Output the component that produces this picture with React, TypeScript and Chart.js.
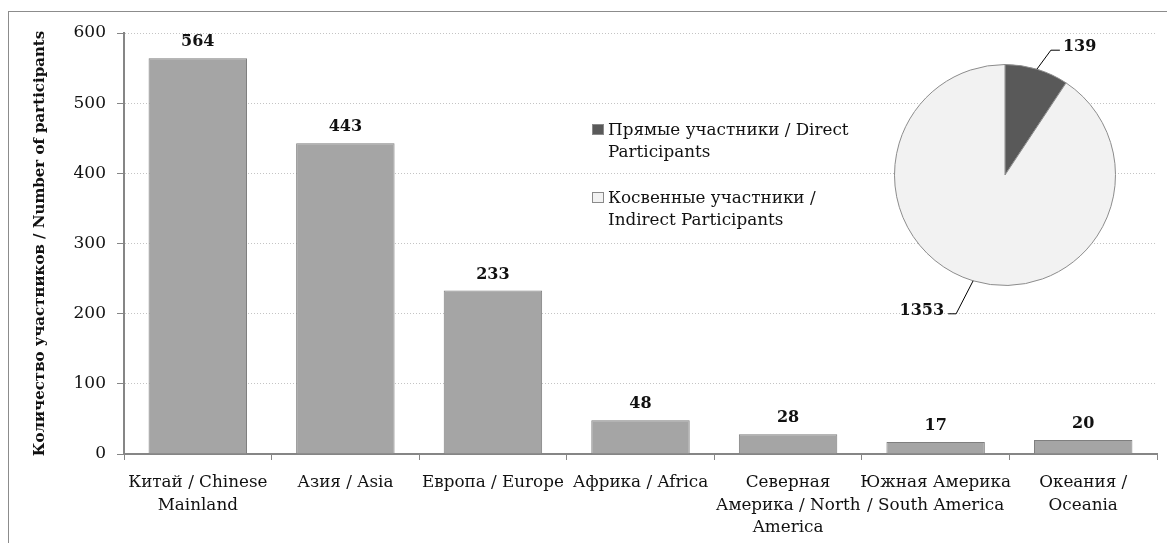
import React, { useEffect, useRef } from "react";
import { Chart, registerables } from "chart.js";

Chart.register(...registerables);

// ---------- data ----------
const categories: (string | string[])[] = [
  ["Китай / Chinese", "Mainland"],
  "Азия / Asia",
  "Европа / Europe",
  "Африка / Africa",
  ["Северная", "Америка / North", "America"],
  ["Южная Америка", "/ South America"],
  ["Океания /", "Oceania"],
];
const participants = [564, 443, 233, 48, 28, 17, 20];
const yMin = 0;
const yMax = 600;
const yStep = 100;
const yAxisTitle = "Количество участников / Number of participants";

const pieLabels = [
  ["Прямые участники / Direct", "Participants"],
  ["Косвенные участники /", "Indirect Participants"],
];
const pieValues = [139, 1353];
const pieColors = ["#595959", "#f2f2f2"];

// ---------- style ----------
const FONT = "'DejaVu Serif', serif";
const TEXT = "#111111";
const AXIS = "#868686";

const barValueLabels = {
  id: "barValueLabels",
  afterDatasetsDraw(chart: any) {
    const { ctx } = chart;
    const meta = chart.getDatasetMeta(0);
    const data = chart.data.datasets[0].data;
    ctx.save();
    ctx.font = `bold 16px ${FONT}`;
    ctx.fillStyle = TEXT;
    ctx.textAlign = "center";
    ctx.textBaseline = "alphabetic";
    meta.data.forEach((bar: any, i: number) => {
      ctx.fillText(String(data[i]), bar.x, bar.y - 12);
    });
    ctx.restore();
  },
};

const pieLegend = {
  id: "pieLegend",
  afterDraw(chart: any) {
    const { ctx } = chart;
    const x0 = 592;
    const y0 = 124;
    const itemGap = 68;
    const lineH = 22;
    ctx.save();
    ctx.font = `16.8px ${FONT}`;
    ctx.fillStyle = TEXT;
    ctx.textAlign = "left";
    ctx.textBaseline = "alphabetic";
    pieLabels.forEach((lines, i) => {
      const y = y0 + i * itemGap;
      ctx.fillStyle = pieColors[i];
      ctx.fillRect(x0, y, 12, 11);
      ctx.strokeStyle = "#8a8a8a";
      ctx.lineWidth = 1;
      ctx.strokeRect(x0 + 0.5, y + 0.5, 11, 10);
      ctx.fillStyle = TEXT;
      lines.forEach((ln, j) => {
        ctx.fillText(ln, x0 + 16, y + 11 + j * lineH);
      });
    });
    ctx.restore();
  },
};

const pieValueLabels = {
  id: "pieValueLabels",
  afterDatasetsDraw(chart: any) {
    const { ctx } = chart;
    const meta = chart.getDatasetMeta(0);
    const data = chart.data.datasets[0].data;
    ctx.save();
    ctx.font = `bold 16px ${FONT}`;
    ctx.fillStyle = TEXT;
    ctx.strokeStyle = "#000";
    ctx.lineWidth = 1;
    ctx.textBaseline = "alphabetic";
    meta.data.forEach((arc: any, i: number) => {
      const mid = (arc.startAngle + arc.endAngle) / 2;
      const ex = arc.x + Math.cos(mid) * arc.outerRadius;
      const ey = arc.y + Math.sin(mid) * arc.outerRadius;
      let bx, by, hx, tx;
      if (Math.cos(mid) >= 0) {
        bx = ex + 14; by = ey - 19; hx = bx + 9; tx = hx + 3;
        ctx.textAlign = "left";
      } else {
        bx = ex - 17; by = ey + 33; hx = bx - 8; tx = hx - 4;
        ctx.textAlign = "right";
      }
      ctx.beginPath();
      ctx.moveTo(ex, ey);
      ctx.lineTo(bx, by);
      ctx.lineTo(hx, by);
      ctx.stroke();
      ctx.fillText(String(data[i]), tx, by + 1);
    });
    ctx.restore();
  },
};

export default function App() {
  const barRef = useRef<HTMLCanvasElement>(null);
  const pieRef = useRef<HTMLCanvasElement>(null);

  useEffect(() => {
    const bar = new Chart(barRef.current as HTMLCanvasElement, {
      type: "bar",
      data: {
        labels: categories as any,
        datasets: [
          {
            data: participants,
            backgroundColor: "#a5a5a5",
            borderColor: "#7f7f7f",
            borderWidth: 1,
            barPercentage: 0.667,
            categoryPercentage: 1,
          },
        ],
      },
      options: {
        animation: false,
        responsive: false,
        maintainAspectRatio: false,
        layout: { padding: { top: 33, right: 10, left: 0, bottom: 0 } },
        plugins: { legend: { display: false }, tooltip: { enabled: false } },
        scales: {
          x: {
            grid: {
              display: true,
              drawOnChartArea: false,
              drawTicks: true,
              tickLength: 6,
              tickColor: AXIS,
              tickWidth: 1,
              offset: true,
            },
            border: { color: AXIS, width: 2 },
            ticks: {
              font: { family: FONT, size: 16.8, lineHeight: 1.32 },
              color: TEXT,
              maxRotation: 0,
              minRotation: 0,
              autoSkip: false,
              padding: 12,
            },
            afterFit: (s: any) => {
              s.height = 89;
            },
          },
          y: {
            min: yMin,
            max: yMax,
            ticks: {
              stepSize: yStep,
              font: { family: FONT, size: 17 },
              color: TEXT,
              padding: 11,
            },
            grid: {
              color: "#c4c4c4",
              lineWidth: 1,
              drawTicks: true,
              tickLength: 7,
              tickColor: AXIS,
              tickWidth: 1,
            },
            border: { color: AXIS, width: 2, dash: [1, 2] },
            title: {
              display: true,
              text: yAxisTitle,
              font: { family: FONT, size: 15, weight: "bold" },
              color: TEXT,
              padding: { top: 31, bottom: 0 },
            },
            afterFit: (s: any) => {
              s.width = 124;
            },
          },
        },
      } as any,
      plugins: [barValueLabels, pieLegend],
    });

    const pie = new Chart(pieRef.current as HTMLCanvasElement, {
      type: "pie",
      data: {
        labels: pieLabels.map((l) => l.join(" ")),
        datasets: [
          {
            data: pieValues,
            backgroundColor: pieColors,
            borderColor: "#8c8c8c",
            borderWidth: 1,
          },
        ],
      },
      options: {
        animation: false,
        responsive: false,
        maintainAspectRatio: false,
        layout: { padding: 39 },
        plugins: { legend: { display: false }, tooltip: { enabled: false } },
      } as any,
      plugins: [pieValueLabels],
    });

    return () => {
      bar.destroy();
      pie.destroy();
    };
  }, []);

  return (
    <div
      style={{
        position: "absolute",
        left: 0,
        top: 0,
        width: 1167,
        height: 543,
        overflow: "hidden",
        background: "#fff",
      }}
    >
      <div
        style={{
          position: "absolute",
          left: 8,
          top: 11,
          width: 1400,
          height: 800,
          border: "1px solid #8c8c8c",
        }}
      />
      <canvas
        ref={barRef}
        width={1167}
        height={543}
        style={{ position: "absolute", left: 0, top: 0, width: 1167, height: 543 }}
      />
      <canvas
        ref={pieRef}
        width={300}
        height={300}
        style={{ position: "absolute", left: 855, top: 25, width: 300, height: 300 }}
      />
    </div>
  );
}
